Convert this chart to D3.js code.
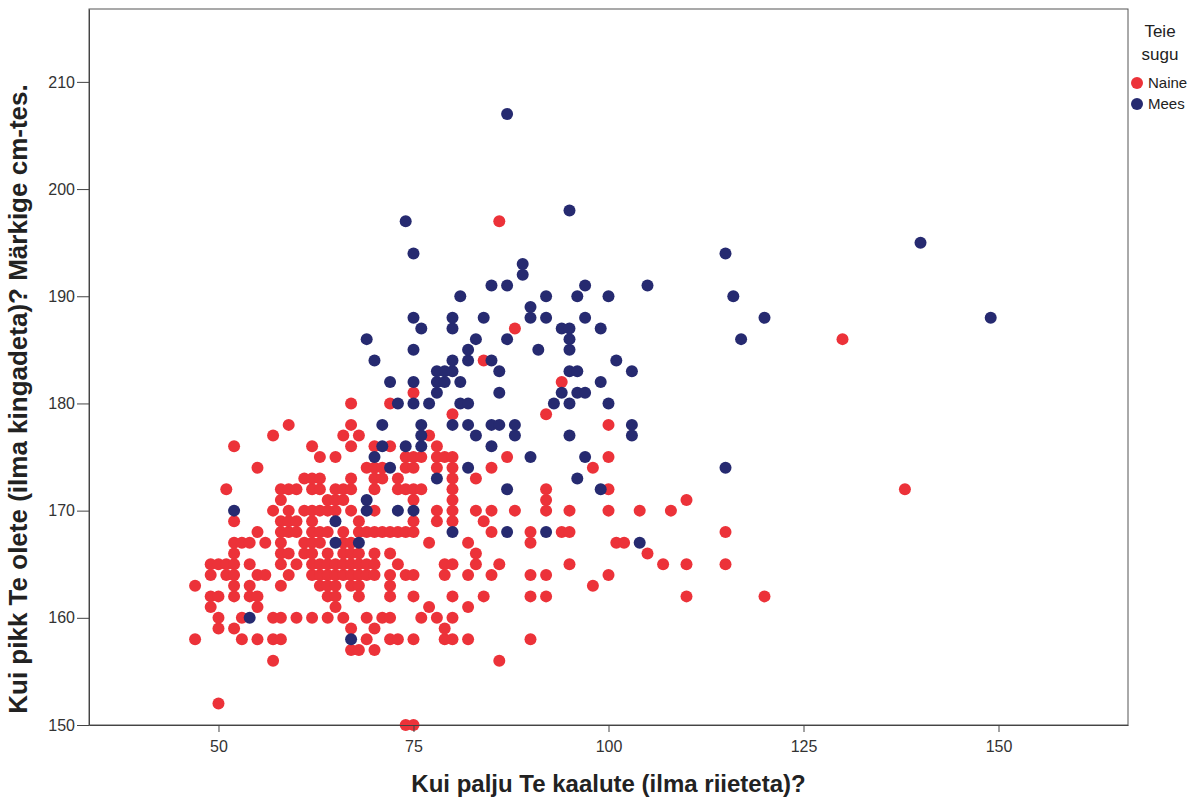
<!DOCTYPE html>
<html>
<head>
<meta charset="utf-8">
<script src="https://d3js.org/d3.v7.min.js"></script>
<style>
  body { margin: 0; background: #fff; }
  text { font-family: "Liberation Sans", Arial, sans-serif; }
</style>
</head>
<body>
<svg width="1202" height="798"></svg>
<script>
// weight (kg) values per height (cm) row
const naineByHeight = [
  [150, [74, 75]],
  [152, [50]],
  [156, [57, 86]],
  [157, [67, 68, 70]],
  [158, [47, 53, 55, 57, 58, 69, 72, 73, 75, 79, 80, 82, 90]],
  [159, [50, 52, 67, 70, 79]],
  [160, [50, 53, 57, 58, 60, 62, 64, 66, 69, 71, 72, 76, 78, 80]],
  [161, [49, 55, 65, 77, 82]],
  [162, [49, 50, 52, 54, 55, 64, 65, 68, 72, 75, 80, 84, 90, 92, 110, 120]],
  [163, [47, 52, 54, 58, 63, 64, 65, 67, 68, 72, 98]],
  [164, [49, 51, 52, 55, 56, 59, 62, 63, 64, 65, 66, 67, 68, 69, 70, 72, 74, 75, 79, 82, 85, 90, 92, 100]],
  [165, [49, 50, 51, 52, 54, 58, 60, 62, 63, 64, 65, 66, 67, 68, 69, 70, 73, 79, 80, 83, 86, 95, 107, 110, 115]],
  [166, [52, 58, 59, 61, 62, 64, 66, 67, 68, 70, 72, 83, 105]],
  [167, [52, 53, 54, 56, 58, 61, 62, 63, 66, 67, 77, 82, 90, 101, 102]],
  [168, [55, 58, 59, 60, 62, 63, 64, 66, 68, 69, 70, 71, 72, 73, 74, 75, 85, 90, 94, 95, 115]],
  [169, [52, 58, 59, 60, 62, 68, 75, 78, 80, 84]],
  [170, [57, 59, 61, 62, 63, 64, 65, 67, 70, 78, 80, 83, 85, 88, 92, 95, 100, 104, 108]],
  [171, [58, 64, 65, 66, 75, 80, 92, 110]],
  [172, [51, 58, 59, 60, 62, 63, 65, 66, 67, 70, 73, 74, 75, 76, 80, 92, 100, 138]],
  [173, [61, 62, 63, 67, 70, 71, 73, 80, 83]],
  [174, [55, 69, 70, 71, 74, 75, 78, 80, 85, 98]],
  [175, [63, 65, 74, 75, 76, 78, 79, 80, 87, 100]],
  [176, [52, 62, 67, 70, 72, 78]],
  [177, [57, 66, 68, 77]],
  [178, [59, 67, 100]],
  [179, [80, 92]],
  [180, [67, 72]],
  [181, [75]],
  [182, [94]],
  [184, [84]],
  [186, [130]],
  [187, [88]],
  [197, [86]]
];

const meesByHeight = [
  [158, [67]],
  [160, [54]],
  [167, [65, 68, 104]],
  [168, [80, 87, 92]],
  [169, [65]],
  [170, [52, 69, 73, 75]],
  [171, [69]],
  [172, [87, 99]],
  [173, [78, 96]],
  [174, [72, 82, 115]],
  [175, [70, 90, 97]],
  [176, [71, 74, 76, 85]],
  [177, [76, 83, 88, 95, 103]],
  [178, [71, 76, 80, 82, 85, 86, 88, 103]],
  [180, [73, 75, 77, 81, 82, 93, 95, 100]],
  [181, [78, 86, 94, 96, 97]],
  [182, [72, 75, 78, 79, 81, 99]],
  [183, [78, 79, 80, 86, 95, 96, 103]],
  [184, [70, 80, 82, 85, 101]],
  [185, [75, 82, 91, 95]],
  [186, [69, 83, 87, 95, 117]],
  [187, [76, 80, 94, 95, 99]],
  [188, [75, 80, 84, 90, 92, 97, 120, 149]],
  [189, [90]],
  [190, [81, 92, 96, 100, 116]],
  [191, [85, 87, 97, 105]],
  [192, [89]],
  [193, [89]],
  [194, [75, 115]],
  [195, [140]],
  [197, [74]],
  [198, [95]],
  [207, [87]]
];

const xTicks = [50, 75, 100, 125, 150];
const yTicks = [150, 160, 170, 180, 190, 200, 210];
const groups = ["Naine", "Mees"];
const groupColors = ["#ec3239", "#262a70"];

function flatten(rows, g) {
  var out = [];
  rows.forEach(function(r) {
    r[1].forEach(function(w) { out.push({ w: w, h: r[0], g: g }); });
  });
  return out;
}
var points = flatten(naineByHeight, "Naine").concat(flatten(meesByHeight, "Mees"));

var svg = d3.select("svg");
// note: "top" is taken by window.top, so plot edges get their own names
var plotLeft = 89, plotRight = 1128, plotTop = 9, plotBottom = 725;

var x = d3.scaleLinear().domain([33.4, 166.6]).range([plotLeft, plotRight]);
var y = d3.scaleLinear().domain([150, 216.8]).range([plotBottom, plotTop]);
var color = d3.scaleOrdinal().domain(groups).range(groupColors);

// plot frame
svg.append("rect")
  .attr("x", plotLeft).attr("y", plotTop)
  .attr("width", plotRight - plotLeft).attr("height", plotBottom - plotTop)
  .attr("fill", "none").attr("stroke", "#555").attr("stroke-width", 1);

// points
svg.append("g")
  .selectAll("circle")
  .data(points)
  .enter()
  .append("circle")
  .attr("cx", d => x(d.w))
  .attr("cy", d => y(d.h))
  .attr("r", 6)
  .attr("fill", d => color(d.g));

// axes
var xAxis = svg.append("g")
  .attr("transform", "translate(0," + plotBottom + ")")
  .call(d3.axisBottom(x).tickValues(xTicks).tickSize(7).tickPadding(9).tickSizeOuter(0));
var yAxis = svg.append("g")
  .attr("transform", "translate(" + plotLeft + ",0)")
  .call(d3.axisLeft(y).tickValues(yTicks).tickSize(12).tickPadding(2).tickSizeOuter(0));

[xAxis, yAxis].forEach(function(a) {
  a.select(".domain").attr("stroke", "#444");
  a.selectAll(".tick line").attr("stroke", "#444");
  a.selectAll("text")
    .attr("fill", "#333")
    .style("font-size", "16px")
    .style("font-family", "'Liberation Sans', Arial, sans-serif");
});

// axis titles
svg.append("text")
  .attr("x", (plotLeft + plotRight) / 2)
  .attr("y", 792)
  .attr("text-anchor", "middle")
  .style("font-size", "24px")
  .style("font-weight", "bold")
  .attr("fill", "#222")
  .text("Kui palju Te kaalute (ilma riieteta)?");

svg.append("text")
  .attr("transform", "translate(27,399) rotate(-90)")
  .attr("text-anchor", "middle")
  .style("font-size", "26px")
  .style("font-weight", "bold")
  .attr("fill", "#222")
  .text("Kui pikk Te olete (ilma kingadeta)? Märkige cm-tes.");

// legend
var legend = svg.append("g");
legend.append("text")
  .attr("x", 1160).attr("y", 37)
  .attr("text-anchor", "middle")
  .style("font-size", "17px")
  .attr("fill", "#222")
  .text("Teie");
legend.append("text")
  .attr("x", 1160).attr("y", 60)
  .attr("text-anchor", "middle")
  .style("font-size", "17px")
  .attr("fill", "#222")
  .text("sugu");

var items = legend.selectAll(".item")
  .data(groups)
  .enter()
  .append("g")
  .attr("class", "item")
  .attr("transform", (d, i) => "translate(1137," + (83 + i * 21) + ")");
items.append("circle")
  .attr("r", 6)
  .attr("fill", d => color(d));
items.append("text")
  .attr("x", 11).attr("y", 5)
  .style("font-size", "15px")
  .attr("fill", "#222")
  .text(d => d);
</script>
</body>
</html>
